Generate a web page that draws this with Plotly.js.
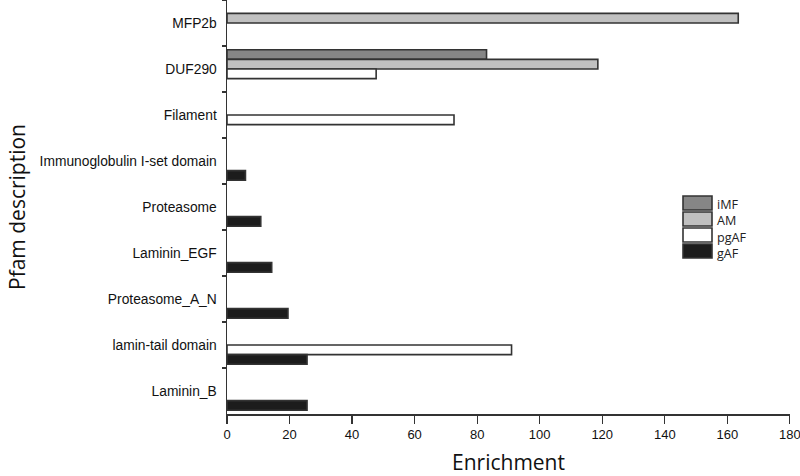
<!DOCTYPE html>
<html>
<head>
<meta charset="utf-8">
<script src="https://cdn.plot.ly/plotly-3.0.1.min.js"></script>
<style>
  body { margin: 0; background: #fff; }
  #graph { width: 800px; height: 476px; }
</style>
</head>
<body>
<div id="graph"></div>
<script>
// Categorías (de arriba hacia abajo)
const categories = ["MFP2b", "DUF290", "Filament", "Immunoglobulin I-set domain",
  "Proteasome", "Laminin_EGF", "Proteasome_A_N", "lamin-tail domain", "Laminin_B"];

// Series
const seriesNames = ["iMF", "AM", "pgAF", "gAF"];
const seriesColors = ["#868686", "#c0c0c0", "#ffffff", "#1c1c1c"];

const iMF = [null, 83, null, null, null, null, null, null, null];
const AM = [163.5, 118.6, null, null, null, null, null, null, null];
const pgAF = [null, 47.7, 72.6, null, null, null, null, 91, null];
const gAF = [null, null, null, 5.9, 10.8, 14.3, 19.5, 25.6, 25.6];

const xTicks = [0, 20, 40, 60, 80, 100, 120, 140, 160, 180];

const seriesValues = [iMF, AM, pgAF, gAF];

const data = seriesNames.map((name, i) => ({
  type: "bar",
  orientation: "h",
  name: name,
  y: categories,
  x: seriesValues[i],
  marker: { color: seriesColors[i], line: { color: "#333333", width: 1.6 } },
  showlegend: false
}));

// Leyenda dibujada a mano (cajas grandes como en la figura)
const shapes = seriesNames.map((name, i) => {
  const top = 196 + i * 16;
  return {
    type: "rect", xref: "paper", yref: "paper",
    x0: (683 - 227) / 563, x1: (712 - 227) / 563,
    y0: 1 - (top + 14) / 414, y1: 1 - top / 414,
    fillcolor: seriesColors[i], line: { color: "#333333", width: 1.6 }
  };
});
// un solo texto con saltos de línea para que no se encimen
const annotations = [{
  xref: "paper", yref: "paper", x: (715 - 227) / 563, y: 1 - 194 / 414,
  xanchor: "left", yanchor: "top", align: "left", showarrow: false,
  text: seriesNames.join("<br>"),
  font: { family: "Open Sans, sans-serif", size: 12.6, color: "#222" }
}];

const layout = {
  width: 800,
  height: 476,
  margin: { l: 227, r: 10, t: 0, b: 62 },
  paper_bgcolor: "#fff",
  plot_bgcolor: "#fff",
  barmode: "group",
  bargap: 0.16,
  bargroupgap: 0,
  showlegend: false,
  xaxis: {
    range: [0, 180.05],
    tickvals: xTicks,
    ticks: "outside",
    ticklen: 8,
    tickwidth: 1.3,
    tickcolor: "#333",
    showline: true,
    linecolor: "#333",
    linewidth: 1.5,
    showgrid: false,
    zeroline: false,
    ticklabeloverflow: "allow",
    tickfont: { family: "Liberation Sans, Arial, sans-serif", size: 13, color: "#111" },
    title: { text: "Enrichment", font: { family: "Open Sans, sans-serif", size: 21, color: "#111" }, standoff: 17 }
  },
  yaxis: {
    type: "category",
    autorange: "reversed",
    ticks: "outside",
    tickson: "boundaries",
    ticklen: 4,
    tickwidth: 1.3,
    tickcolor: "#333",
    showline: true,
    linecolor: "#333",
    linewidth: 1.5,
    showgrid: false,
    zeroline: false,
    ticklabelstandoff: 6,
    tickfont: { family: "Liberation Sans, Arial, sans-serif", size: 13.8, color: "#111" },
    title: { text: "Pfam description", font: { family: "Open Sans, sans-serif", size: 21, color: "#111" }, standoff: 8 }
  },
  shapes: shapes,
  annotations: annotations
};

Plotly.newPlot("graph", data, layout, { staticPlot: true });
</script>
</body>
</html>
